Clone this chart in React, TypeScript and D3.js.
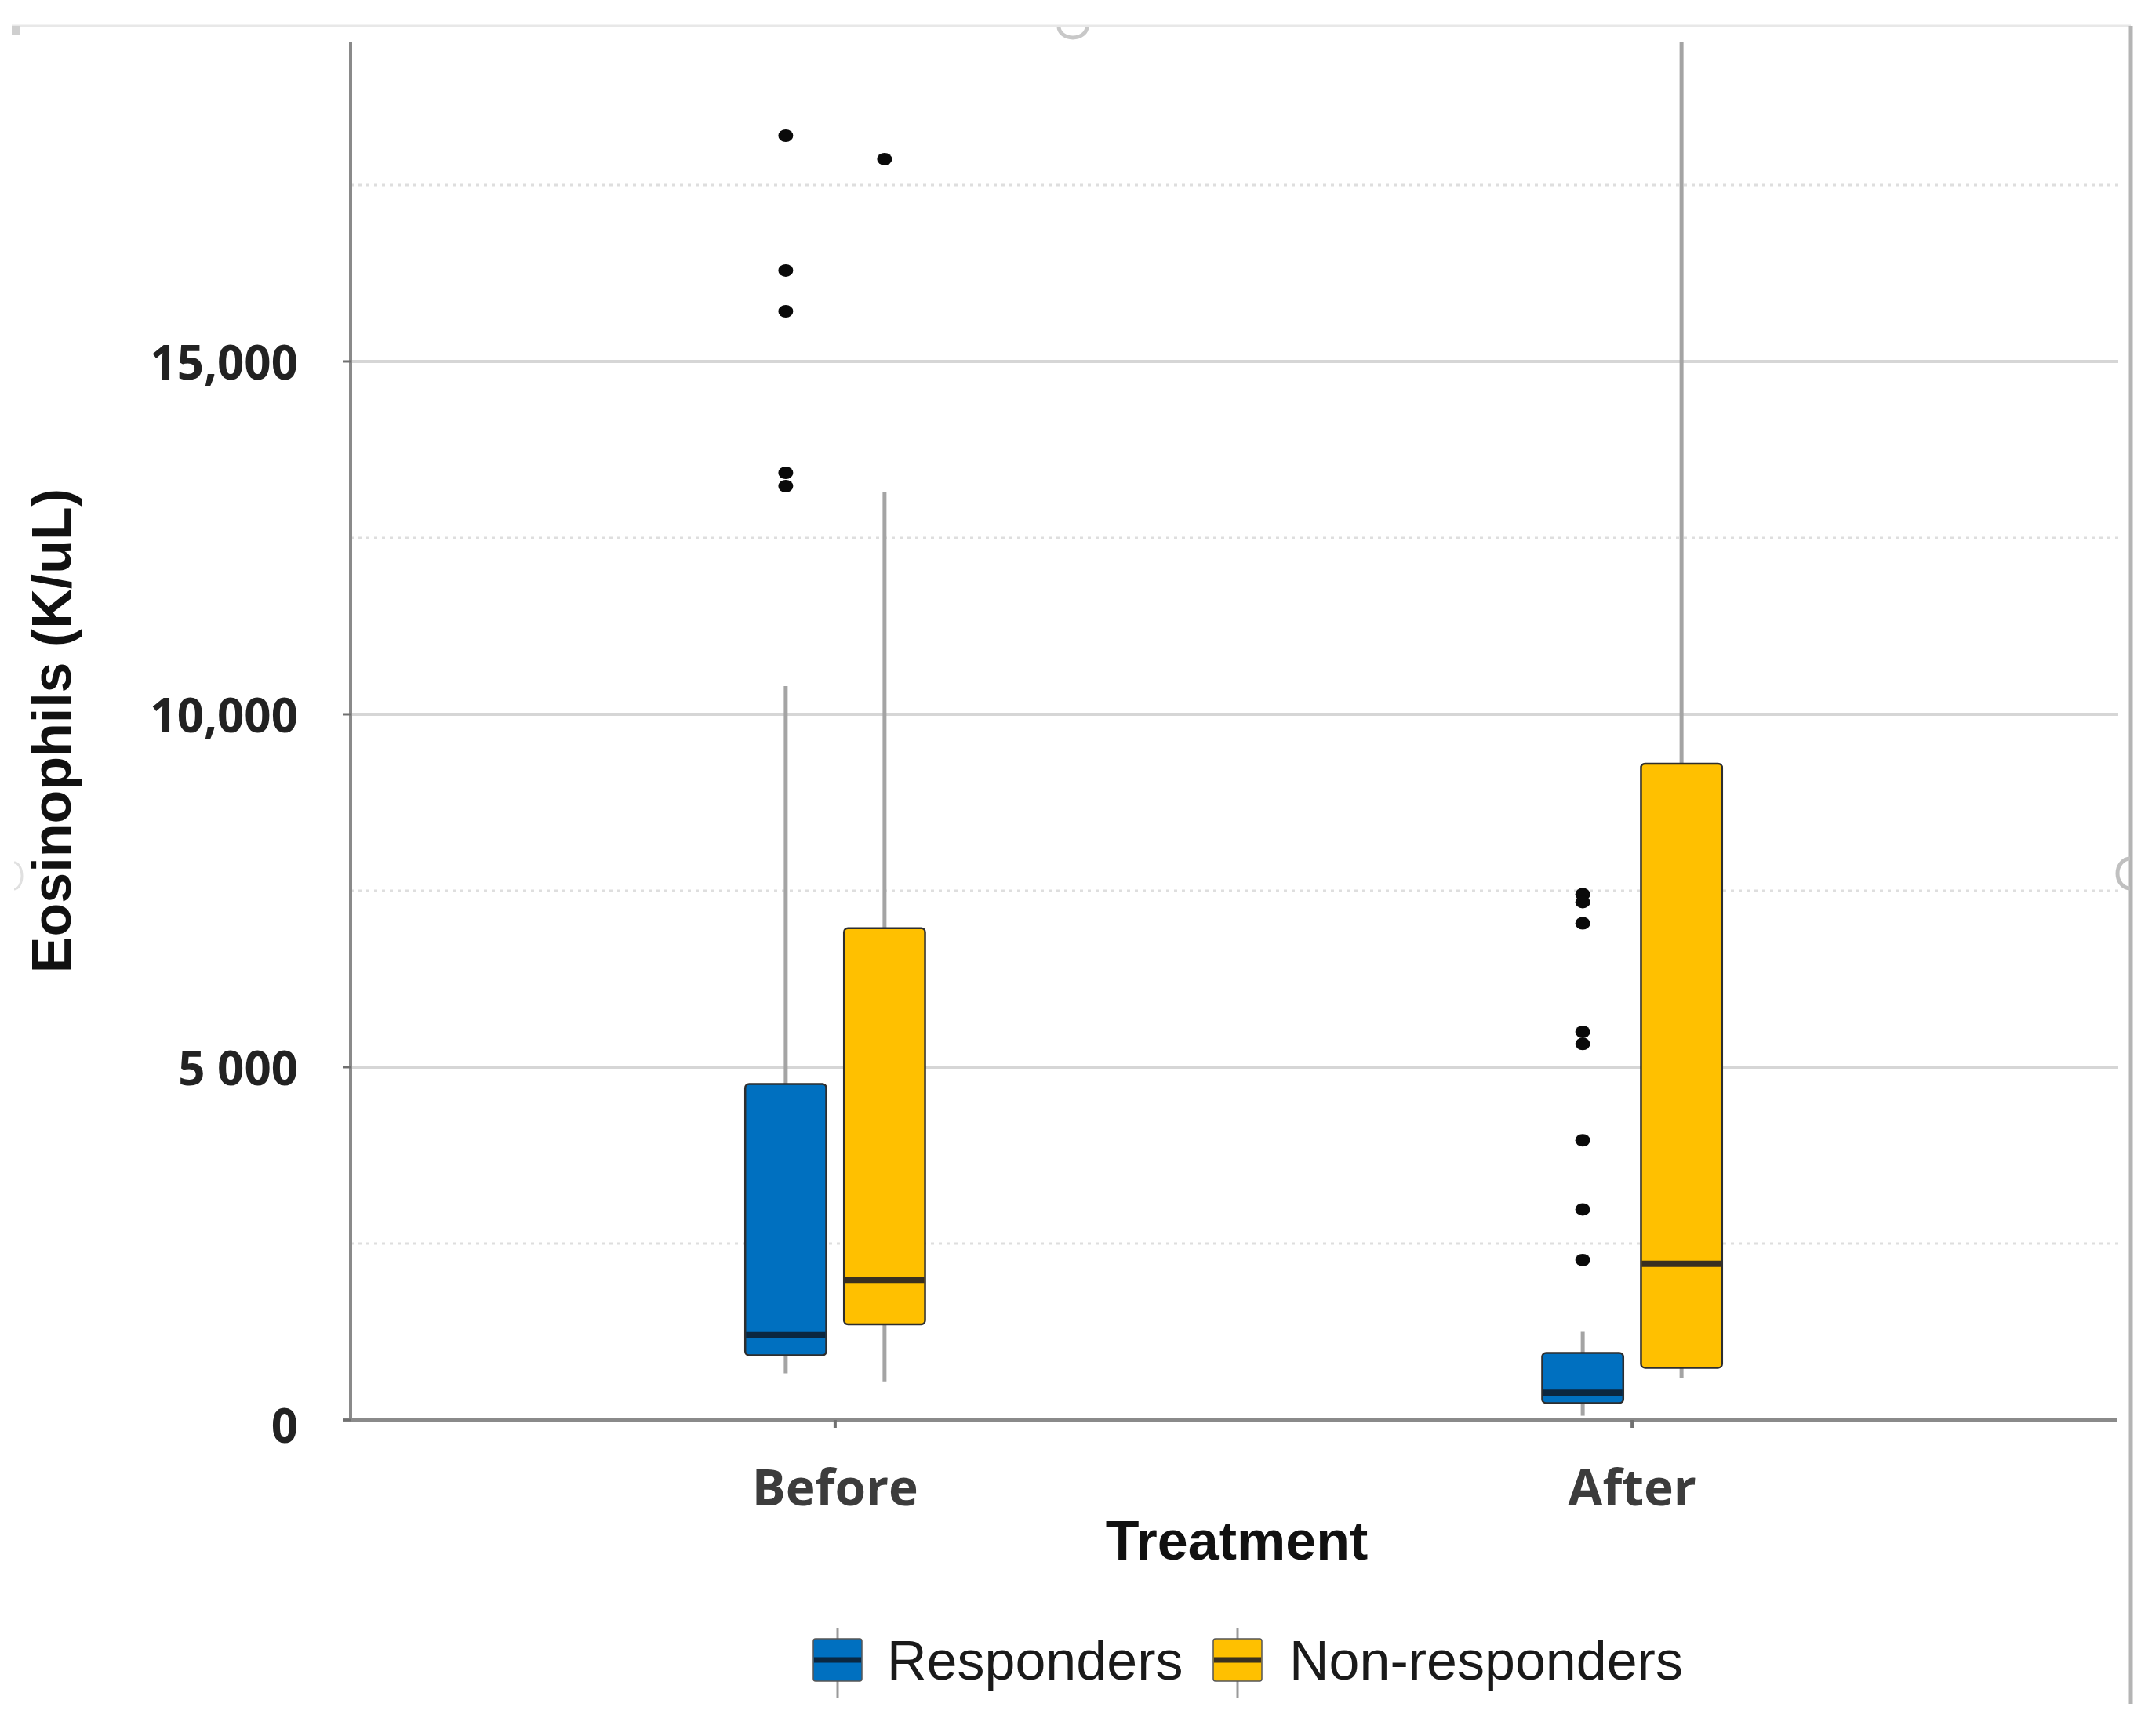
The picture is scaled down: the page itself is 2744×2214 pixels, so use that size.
import React from 'react';
import * as d3 from 'd3';

const groups = ['Before', 'After'];
const series = ['Responders', 'Non-responders'];
const seriesColors = ['#0070C0', '#FFC000'];
const medianColors = ['#0b2740', '#3a3020'];

// box stats per series, one entry per group (Before, After)
const respLow = [661, 60];
const respQ1 = [917, 240];
const respMedian = [1202, 385];
const respQ3 = [4761, 950];
const respHigh = [10400, 1250];
const respOutliers = [
  [18200, 16289, 15711, 13422, 13233],
  [7450, 7340, 7039, 5501, 5330, 3964, 2984, 2267],
];

const nonLow = [547, 589];
const nonQ1 = [1355, 740];
const nonMedian = [1987, 2215];
const nonQ3 = [6970, 9300];
const nonHigh = [13156, 19533];
const nonOutliers = [[17867], []];

const yTicks = [0, 5000, 10000, 15000];
const yTickLabels = ['0', '5 000', '10,000', '15,000'];
const yMinor = [2500, 7500, 12500, 17500];

const W = 2744;
const H = 2214;
const plotLeft = 447;
const plotRight = 2699;
const plotTop = 53;
const plotBottom = 1811;

export default function App() {
  const x = d3.scalePoint<string>().domain(groups).range([plotLeft, plotRight]).padding(0.608);
  const sub = d3.scaleBand<string>().domain(series).range([-126, 126]);
  const y = d3.scaleLinear().domain([0, 19533]).range([plotBottom, plotTop]);
  const boxW = sub.bandwidth() * 0.82;

  const stats = [
    { low: respLow, q1: respQ1, med: respMedian, q3: respQ3, high: respHigh, out: respOutliers },
    { low: nonLow, q1: nonQ1, med: nonMedian, q3: nonQ3, high: nonHigh, out: nonOutliers },
  ];

  const legendX = [1037, 1547];
  const legendTextX = [1131, 1644];

  return (
    <div style={{ position: 'absolute', left: 0, top: 0 }}>
      <svg width={W} height={H} style={{ display: 'block', background: '#fff' }}>
        {/* frame of the pasted image */}
        <line x1={15} x2={2717} y1={33} y2={33} stroke="#e8e8e8" strokeWidth={3} />
        <line x1={2717} x2={2717} y1={33} y2={2173} stroke="#b4b4b4" strokeWidth={5} />
        <path d="M1350,34 A18,14 0 0 0 1386,34" fill="none" stroke="#c8c8c8" strokeWidth={5} />
        <path d="M2716,1095 A16,19 0 0 0 2716,1133" fill="none" stroke="#c0c0c0" strokeWidth={5} />
        <path d="M18,1100 A10,17 0 0 1 18,1134" fill="none" stroke="#e0e0e0" strokeWidth={3} />
        <rect x={15} y={33} width={10} height={12} fill="#cfcfcf" />

        {/* grid */}
        {yMinor.map(v => (
          <line key={'m' + v} x1={plotLeft} x2={plotRight + 2} y1={y(v)} y2={y(v)}
            stroke="#dedede" strokeWidth={3} strokeDasharray="4,6" />
        ))}
        {yTicks.filter(v => v > 0).map(v => (
          <line key={'g' + v} x1={plotLeft} x2={plotRight + 2} y1={y(v)} y2={y(v)}
            stroke="#d6d6d6" strokeWidth={4} />
        ))}

        {/* axes */}
        <line x1={plotLeft} x2={plotLeft} y1={plotTop} y2={plotBottom} stroke="#8a8a8a" strokeWidth={4} />
        <line x1={plotLeft - 10} x2={plotRight} y1={plotBottom} y2={plotBottom} stroke="#8a8a8a" strokeWidth={5} />
        {yTicks.map(v => (
          <line key={'t' + v} x1={plotLeft - 10} x2={plotLeft} y1={y(v)} y2={y(v)} stroke="#707070" strokeWidth={3} />
        ))}
        {groups.map(g => (
          <line key={'xt' + g} x1={x(g)!} x2={x(g)!} y1={plotBottom} y2={plotBottom + 10} stroke="#707070" strokeWidth={4} />
        ))}

        {yTicks.map((v, i) => (
          <text key={'yl' + v} x={380} y={y(v) + (v === 0 ? 6 : 0)} textAnchor="end" dominantBaseline="central"
            fontFamily="'Open Sans', sans-serif" fontWeight={700} fontSize={60} fill="#222">
            {yTickLabels[i]}
          </text>
        ))}

        {groups.map(g => (
          <text key={'xl' + g} x={x(g)!} y={1920} textAnchor="middle"
            fontFamily="'Open Sans', sans-serif" fontWeight={700} fontSize={64} fill="#3c3c3c">
            {g}
          </text>
        ))}

        <text x={(plotLeft + plotRight) / 2 + 4} y={1989} textAnchor="middle"
          fontFamily="'Liberation Sans', Arial, sans-serif" fontWeight={700} fontSize={70} fill="#111">
          Treatment
        </text>
        <text transform={`translate(90,${(plotTop + plotBottom) / 2}) rotate(-90)`} textAnchor="middle"
          fontFamily="'Liberation Sans', Arial, sans-serif" fontWeight={700} fontSize={70} fill="#111">
          Eosinophils (K/uL)
        </text>

        {/* boxes */}
        {groups.map((g, gi) =>
          series.map((s, si) => {
            const st = stats[si];
            const cx = x(g)! + sub(s)! + sub.bandwidth() / 2;
            return (
              <g key={g + s}>
                <line x1={cx} x2={cx} y1={y(st.high[gi])} y2={y(st.q3[gi])} stroke="#a4a4a4" strokeWidth={5} />
                <line x1={cx} x2={cx} y1={y(st.q1[gi])} y2={y(st.low[gi])} stroke="#a4a4a4" strokeWidth={5} />
                <rect x={cx - boxW / 2} y={y(st.q3[gi])} width={boxW} height={y(st.q1[gi]) - y(st.q3[gi])}
                  rx={5} fill={seriesColors[si]} stroke="#2e2e2e" strokeWidth={2.5} />
                <line x1={cx - boxW / 2 + 1} x2={cx + boxW / 2 - 1} y1={y(st.med[gi])} y2={y(st.med[gi])}
                  stroke={medianColors[si]} strokeWidth={8} />
                {st.out[gi].map((v, oi) => (
                  <ellipse key={oi} cx={cx} cy={y(v)} rx={9.5} ry={8} fill="#0a0a0a" />
                ))}
              </g>
            );
          })
        )}

        {/* legend */}
        {series.map((s, si) => (
          <g key={'lg' + s}>
            <line x1={legendX[si] + 31} x2={legendX[si] + 31} y1={2076} y2={2166} stroke="#9a9a9a" strokeWidth={3} />
            <rect x={legendX[si]} y={2090} width={62} height={54} rx={3} fill={seriesColors[si]} stroke="#555" strokeWidth={1.5} />
            <line x1={legendX[si] + 1} x2={legendX[si] + 61} y1={2117} y2={2117} stroke={medianColors[si]} strokeWidth={7} />
            <text x={legendTextX[si]} y={2142} fontFamily="'Liberation Sans', Arial, sans-serif"
              fontSize={70} fill="#1a1a1a">
              {s}
            </text>
          </g>
        ))}
      </svg>
    </div>
  );
}
